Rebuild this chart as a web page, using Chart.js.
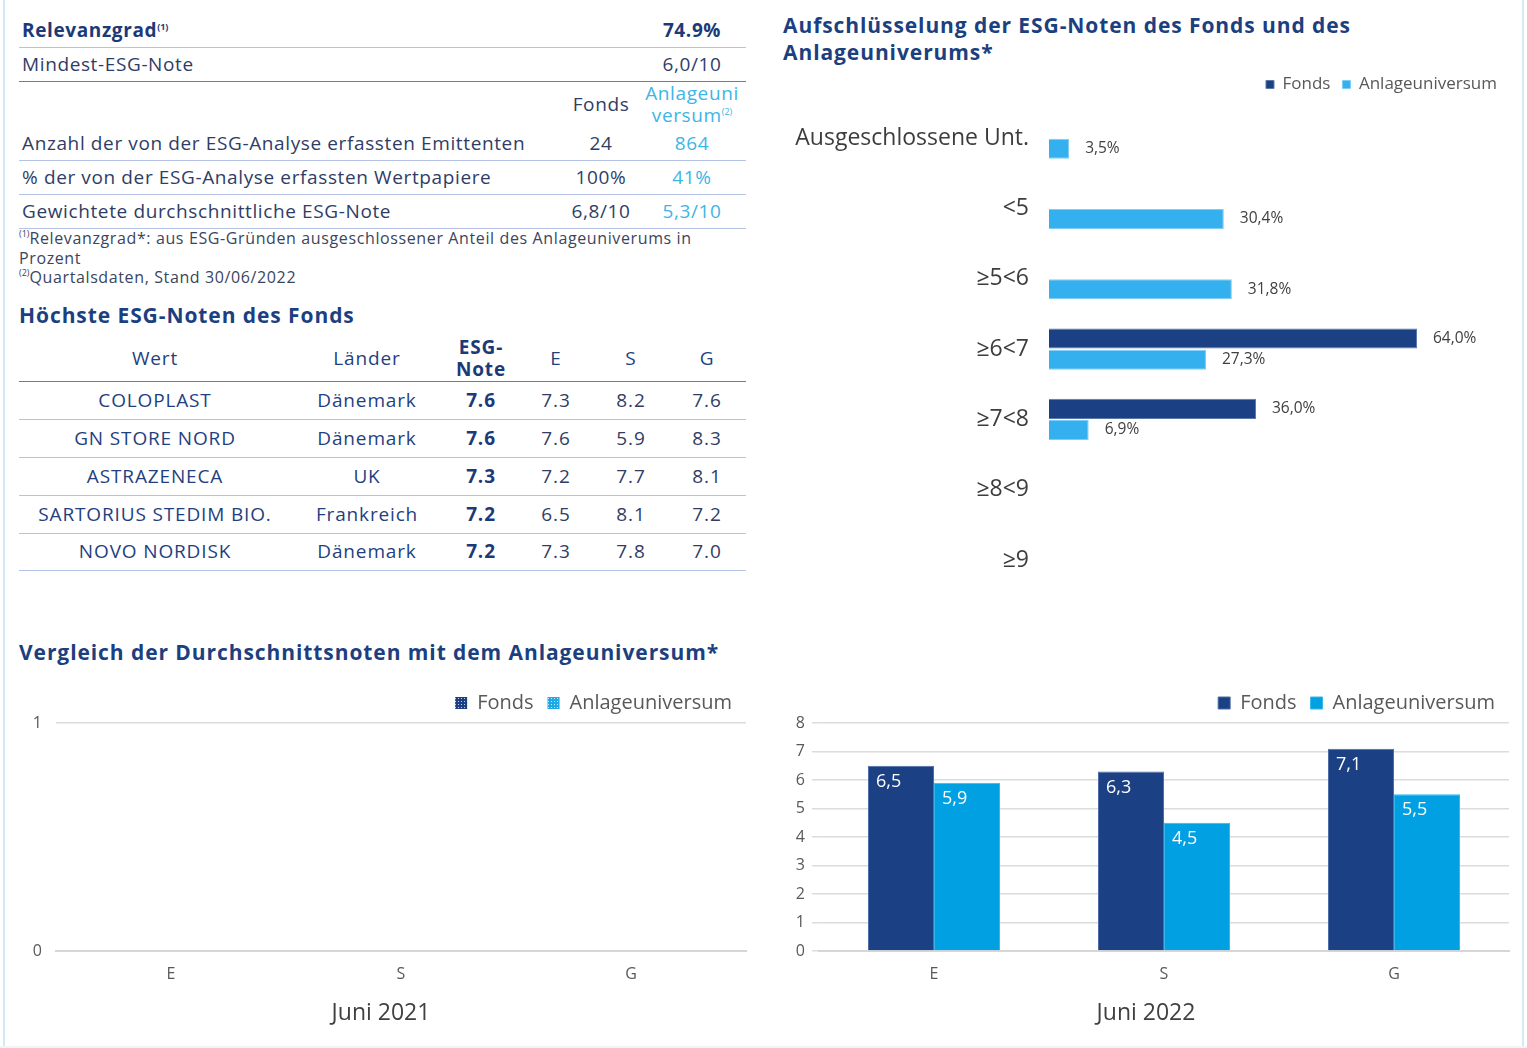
<!DOCTYPE html>
<html><head><meta charset="utf-8">
<script src="https://cdn.jsdelivr.net/npm/chart.js@4.4.1/dist/chart.umd.min.js"></script>
<style>
body{margin:0;background:#fff;font-family:"Open Sans",sans-serif;}
#page{position:relative;width:1527px;height:1048px;overflow:hidden;background:#fff;}
.t{position:absolute;white-space:nowrap;transform:translateY(-50%);line-height:1.1;color:#2f3d66;font-size:19px;letter-spacing:0.62px;}
.t2{letter-spacing:0.85px;}
.c{transform:translate(-50%,-50%);text-align:center;}
.b{font-weight:700;color:#1c3a78;}
.lb{color:#3db5e6;}
.nv{color:#1f3f7f;}
.hl{position:absolute;height:1px;background:#b6c3e6;}
.red{background:#d9506b;}
.ttl{position:absolute;font-weight:700;color:#1c3f7f;font-size:21px;line-height:27px;white-space:nowrap;letter-spacing:0.92px;}
.fn{position:absolute;font-size:16px;color:#3a4560;line-height:19.5px;white-space:nowrap;letter-spacing:0.62px;}
sup{font-size:9px;vertical-align:7px;line-height:0;letter-spacing:0;}
canvas{position:absolute;}
.vb{position:absolute;top:0;bottom:0;width:2px;background:#d3eaf4;}
</style></head>
<body>
<div id="page">
  <div class="vb" style="left:3px"></div>
  <div class="vb" style="left:1522px"></div>
  <div style="position:absolute;left:0;right:0;top:1046px;height:2px;background:#eef5f7"></div>

  <!-- top table -->
  <div class="t b" style="left:22px;top:30px">Relevanzgrad<sup>(1)</sup></div>
  <div class="t b c" style="left:692px;top:30px">74.9%</div>
  <div class="hl" style="left:19px;width:727px;top:47px"></div>
  <div class="t" style="left:22px;top:64px">Mindest-ESG-Note</div>
  <div class="t c" style="left:692px;top:64px">6,0/10</div>
  <div class="hl red" style="left:19px;width:727px;top:81px"></div>
  <div class="t c" style="left:601px;top:104px">Fonds</div>
  <div class="t c lb" style="left:692px;top:93px">Anlageuni</div>
  <div class="t c lb" style="left:692px;top:115px">versum<sup>(2)</sup></div>
  <div class="t" style="left:22px;top:143px">Anzahl der von der ESG-Analyse erfassten Emittenten</div>
  <div class="t c" style="left:601px;top:143px">24</div>
  <div class="t c lb" style="left:692px;top:143px">864</div>
  <div class="hl" style="left:19px;width:727px;top:160px"></div>
  <div class="t" style="left:22px;top:177px">% der von der ESG-Analyse erfassten Wertpapiere</div>
  <div class="t c" style="left:601px;top:177px">100%</div>
  <div class="t c lb" style="left:692px;top:177px">41%</div>
  <div class="hl" style="left:19px;width:727px;top:194px"></div>
  <div class="t" style="left:22px;top:211px">Gewichtete durchschnittliche ESG-Note</div>
  <div class="t c" style="left:601px;top:211px">6,8/10</div>
  <div class="t c lb" style="left:692px;top:211px">5,3/10</div>
  <div class="hl" style="left:19px;width:727px;top:228px"></div>
  <div class="fn" style="left:19px;top:229px"><sup>(1)</sup>Relevanzgrad*: aus ESG-Gründen ausgeschlossener Anteil des Anlageuniverums in<br>Prozent<br><sup>(2)</sup>Quartalsdaten, Stand 30/06/2022</div>

  <!-- second table -->
  <div class="ttl" style="left:19px;top:302px">Höchste ESG-Noten des Fonds</div>
  <div class="t t2 c nv" style="left:155px;top:358px">Wert</div>
  <div class="t t2 c nv" style="left:367px;top:358px">Länder</div>
  <div class="t t2 c b" style="left:481px;top:347px">ESG-</div>
  <div class="t t2 c b" style="left:481px;top:369px">Note</div>
  <div class="t t2 c nv" style="left:556px;top:358px">E</div>
  <div class="t t2 c nv" style="left:631px;top:358px">S</div>
  <div class="t t2 c nv" style="left:707px;top:358px">G</div>
  <div class="hl red" style="left:19px;width:727px;top:381px"></div>
  <div id="topRows"></div>

  <!-- right top -->
  <div class="ttl" style="left:783px;top:12px">Aufschlüsselung der ESG-Noten des Fonds und des<br>Anlageuniverums*</div>
  <canvas id="hbar" width="730" height="557" style="left:783px;top:64px"></canvas>

  <!-- bottom -->
  <div class="ttl" style="left:19px;top:639px">Vergleich der Durchschnittsnoten mit dem Anlageuniversum*</div>
  <canvas id="c2021" width="734" height="351" style="left:16px;top:679px"></canvas>
  <canvas id="c2022" width="730" height="351" style="left:783px;top:679px"></canvas>
</div>
<script>
// ---------- data ----------
const gradeBands = ["Ausgeschlossene Unt.", "<5", "≥5<6", "≥6<7", "≥7<8", "≥8<9", "≥9"];
const bandFonds = [null, null, null, 64.0, 36.0, null, null];
const bandUniversum = [3.5, 30.4, 31.8, 27.3, 6.9, null, null];

const pillars = ["E", "S", "G"];
const fonds2021 = [null, null, null];
const universum2021 = [null, null, null];
const fonds2022 = [6.5, 6.3, 7.1];
const universum2022 = [5.9, 4.5, 5.5];

const topNames = ["COLOPLAST", "GN STORE NORD", "ASTRAZENECA", "SARTORIUS STEDIM BIO.", "NOVO NORDISK"];
const topCountries = ["Dänemark", "Dänemark", "UK", "Frankreich", "Dänemark"];
const topEsg = ["7.6", "7.6", "7.3", "7.2", "7.2"];
const topE = ["7.3", "7.6", "7.2", "6.5", "7.3"];
const topS = ["8.2", "5.9", "7.7", "8.1", "7.8"];
const topG = ["7.6", "8.3", "8.1", "7.2", "7.0"];

// ---------- table rows ----------
(function(){
  const rowY = [400, 438, 476, 514, 551];
  const lineY = [419, 457, 495, 533, 570];
  let h = '';
  topNames.forEach((n, i) => {
    const y = rowY[i];
    h += `<div class="t t2 c nv" style="left:155px;top:${y}px">${n}</div>`;
    h += `<div class="t t2 c nv" style="left:367px;top:${y}px">${topCountries[i]}</div>`;
    h += `<div class="t t2 c b" style="left:481px;top:${y}px">${topEsg[i]}</div>`;
    h += `<div class="t t2 c" style="left:556px;top:${y}px">${topE[i]}</div>`;
    h += `<div class="t t2 c" style="left:631px;top:${y}px">${topS[i]}</div>`;
    h += `<div class="t t2 c" style="left:707px;top:${y}px">${topG[i]}</div>`;
    h += `<div class="hl" style="left:19px;width:727px;top:${lineY[i]}px"></div>`;
  });
  document.getElementById('topRows').innerHTML = h;
})();

// ---------- helpers ----------
const FONT = '"Open Sans", sans-serif';
Chart.defaults.font.family = FONT;
const comma = v => v.toFixed(1).replace('.', ',');

const valueLabels = {
  id: 'valueLabels',
  afterDatasetsDraw(chart, args, opts) {
    const ctx = chart.ctx;
    chart.data.datasets.forEach((ds, i) => {
      const meta = chart.getDatasetMeta(i);
      meta.data.forEach((bar, j) => {
        const v = ds.data[j];
        if (v == null) return;
        ctx.save();
        ctx.font = opts.font;
        ctx.fillStyle = opts.color;
        ctx.textBaseline = 'middle';
        ctx.textAlign = 'left';
        if (opts.mode === 'end') {
          ctx.fillText(comma(v) + '%', bar.x + opts.offset, bar.y);
        } else {
          ctx.fillText(comma(v), bar.x - bar.width / 2 + opts.offset, bar.y + opts.dy);
        }
        ctx.restore();
      });
    });
  }
};

function dotted(color) {
  const c = document.createElement('canvas');
  c.width = 3; c.height = 3;
  const x = c.getContext('2d');
  x.fillStyle = color; x.fillRect(0, 0, 3, 3);
  x.fillStyle = 'rgba(255,255,255,0.75)';
  x.fillRect(1, 1, 1, 1);
  return x.createPattern(c, 'repeat');
}

// ---------- horizontal bar chart ----------
new Chart(document.getElementById('hbar'), {
  type: 'bar',
  data: {
    labels: gradeBands,
    datasets: [
      { label: 'Fonds', data: bandFonds, backgroundColor: '#1b4083', borderColor: '#5b79ad', borderWidth: 1, categoryPercentage: 0.6, barPercentage: 0.95 },
      { label: 'Anlageuniversum', data: bandUniversum, backgroundColor: '#35b0ee', borderColor: '#7fcdf3', borderWidth: 1, categoryPercentage: 0.6, barPercentage: 0.95 }
    ]
  },
  options: {
    indexAxis: 'y', responsive: false, animation: false, devicePixelRatio: 1,
    layout: { padding: { right: 4 } },
    scales: {
      x: { display: false, min: 0, max: 80 },
      y: {
        grid: { display: false }, border: { display: false },
        ticks: { color: '#3d3d3d', font: { size: 23 }, padding: 12 },
        afterFit(s) { s.width = 266; }
      }
    },
    plugins: {
      legend: { position: 'top', align: 'end', labels: { boxWidth: 8, boxHeight: 8, color: '#595959', font: { size: 17 }, padding: 12 } },
      tooltip: { enabled: false },
      valueLabels: { mode: 'end', offset: 16, font: '15.5px ' + FONT, color: '#404040' }
    }
  },
  plugins: [valueLabels]
});

// ---------- common column chart options ----------
function colOptions(title, yMax, yWidth, padRight, tickLen, tickPad) {
  return {
    responsive: false, animation: false, devicePixelRatio: 1,
    layout: { padding: { right: padRight } },
    scales: {
      x: {
        grid: { display: false },
        border: { display: true, color: '#d6d6d6', width: 2 },
        ticks: { color: '#595959', font: { size: 16 }, padding: 6 },
        afterFit(s) { s.height = 44.4; }
      },
      y: {
        min: 0, max: yMax,
        grid: { color: '#dcdcdc', lineWidth: 1.5, drawTicks: tickLen > 0, tickLength: tickLen },
        border: { display: false },
        ticks: { stepSize: 1, color: '#595959', font: { size: 16 }, padding: tickPad },
        afterFit(s) { s.width = yWidth; }
      }
    },
    plugins: {
      title: { display: true, position: 'bottom', text: title, color: '#404040', font: { size: 23, weight: 'normal' }, padding: { top: 4, bottom: 3 } },
      legend: { position: 'top', align: 'end', labels: { boxWidth: 12, boxHeight: 12, color: '#595959', font: { size: 20 }, padding: 14 } },
      tooltip: { enabled: false },
      valueLabels: { mode: 'inside', offset: 8, dy: 16, font: '18px ' + FONT, color: '#ffffff' }
    }
  };
}

new Chart(document.getElementById('c2021'), {
  type: 'bar',
  data: {
    labels: pillars,
    datasets: [
      { label: 'Fonds', data: fonds2021, backgroundColor: dotted('#1b4083'), borderWidth: 0 },
      { label: 'Anlageuniversum', data: universum2021, backgroundColor: dotted('#1fa8e6'), borderWidth: 0 }
    ]
  },
  options: colOptions('Juni 2021', 1, 40, 4, 0, 14),
  plugins: [valueLabels]
});

new Chart(document.getElementById('c2022'), {
  type: 'bar',
  data: {
    labels: pillars,
    datasets: [
      { label: 'Fonds', data: fonds2022, backgroundColor: '#1b4083', borderColor: '#4d6ea8', borderWidth: 1, categoryPercentage: 0.574, barPercentage: 1.0 },
      { label: 'Anlageuniversum', data: universum2022, backgroundColor: '#00a0e3', borderColor: '#39b6ec', borderWidth: 1, categoryPercentage: 0.574, barPercentage: 1.0 }
    ]
  },
  options: colOptions('Juni 2022', 8, 36, 4, 7, 7),
  plugins: [valueLabels]
});
</script>
</body></html>
